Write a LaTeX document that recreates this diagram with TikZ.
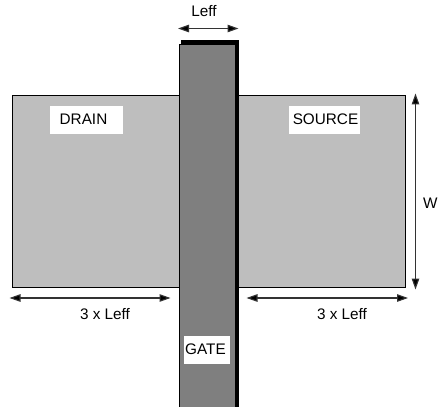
\documentclass[tikz,border=0pt]{standalone}
\usepackage{fontspec}
\setmainfont{Liberation Sans}
\usetikzlibrary{arrows.meta}
\definecolor{diffgray}{HTML}{BEBEBE}
\definecolor{gategray}{HTML}{7F7F7F}
\tikzset{
  region/.style={draw=black,line width=1pt,fill=diffgray},
  gatebody/.style={draw=black,line width=1pt,fill=gategray},
  shadowbar/.style={fill=black,draw=none},
  dim/.style={draw=black!80,line width=1.1pt,{Triangle[length=11pt,width=7.5pt,fill=black]}-{Triangle[length=11pt,width=7.5pt,fill=black]}},
  lbl/.style={font=\fontsize{15.3}{17}\selectfont,text=black,inner sep=0pt,anchor=center},
  boxed/.style={lbl,fill=white,minimum height=28pt}
}
\begin{document}
\begin{tikzpicture}[x=1pt,y=-1pt]
\useasboundingbox (0,0) rectangle (438,406);
\clip (0,0) rectangle (438,406);
\fill[white] (0,0) rectangle (438,406);
\draw[region] (12.5,96) rectangle (405.5,287.5);
\fill[shadowbar] (181,40.5) rectangle (239,407);
\draw[gatebody] (179.2,44.5) rectangle (235.5,408);
\node[boxed,minimum width=73pt] (drain) at (86.5,120) {\raisebox{1pt}{DRAIN}\kern6pt};
\node[boxed,minimum width=71pt] (source) at (324.5,120) {\kern2pt\raisebox{1pt}{SOURCE}};
\node[boxed,minimum width=46pt] (gate) at (207,350) {\raisebox{1pt}{GATE}\kern3pt};
\node[lbl] (leff) at (204,11.5) {Leff};
\node[lbl] (leffl) at (105,314.5) {3 x Leff};
\node[lbl] (leffr) at (342,314.5) {3 x Leff};
\node[lbl,anchor=east] (w) at (437.8,203) {W};
\coordinate (a1) at (178,28.5); \coordinate (a2) at (238.5,28.5);
\coordinate (b1) at (9.5,298); \coordinate (b2) at (170.5,298);
\coordinate (c1) at (246.5,298); \coordinate (c2) at (408,298);
\coordinate (d1) at (415.5,93.5); \coordinate (d2) at (415.5,289.5);
\draw[dim] (a1) -- (a2);
\draw[dim] (b1) -- (b2);
\draw[dim] (c1) -- (c2);
\draw[dim] (d1) -- (d2);
\end{tikzpicture}
\end{document}
